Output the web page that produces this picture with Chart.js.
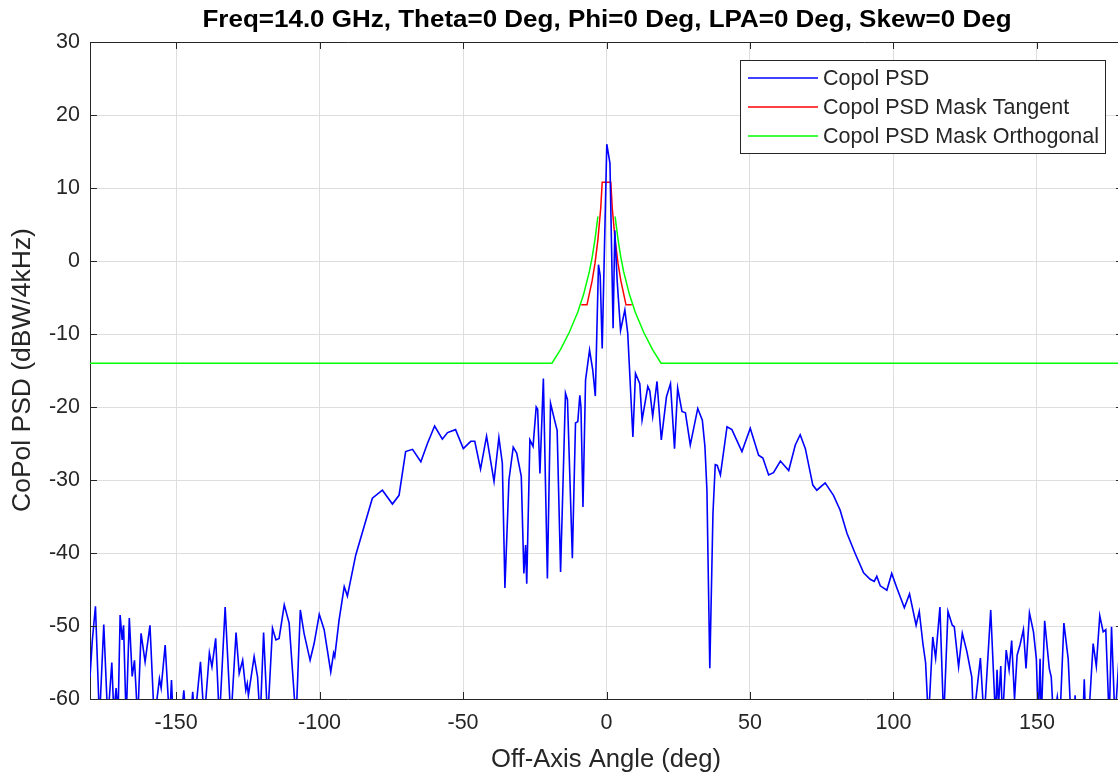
<!DOCTYPE html>
<html>
<head>
<meta charset="utf-8">
<script src="https://cdn.jsdelivr.net/npm/chart.js@4.4.1/dist/chart.umd.min.js"></script>
<style>
  html, body { margin: 0; padding: 0; background: #ffffff; overflow: hidden; }
  #wrap { width: 1130px; height: 780px; }
</style>
</head>
<body>
<div id="wrap"><canvas id="c" width="1130" height="780"></canvas></div>
<script>
// ---------------- data ----------------
const chartTitle = 'Freq=14.0 GHz, Theta=0 Deg, Phi=0 Deg, LPA=0 Deg, Skew=0 Deg';
const xAxisTitle = 'Off-Axis Angle (deg)';
const yAxisTitle = 'CoPol PSD (dBW/4kHz)';
const seriesNames = ['Copol PSD', 'Copol PSD Mask Tangent', 'Copol PSD Mask Orthogonal'];
const xTicks = [-150, -100, -50, 0, 50, 100, 150];
const yTicks = [-60, -50, -40, -30, -20, -10, 0, 10, 20, 30];

const psdAngle = [
  -180, -179.2, -178.1, -176.7, -175.2, -173.8, -172.4, -171.7, -170.9, -170.2,
  -169.5, -168.8, -168.3, -167.4, -166.3, -165.3, -164.5, -164.0, -163.4, -162.2,
  -160.8, -159.1, -157.6, -156.5, -155.8, -155.2, -153.8, -152.3, -151.6, -151.0,
  -149.0, -147.3, -146.5, -145.0, -144.2, -143.5, -141.5, -140.2, -138.4, -137.5,
  -136.2, -134.9, -132.9, -130.9, -129.1, -128.0, -126.8, -125.7, -125.2, -124.8,
  -122.8, -121.6, -120.7, -119.5, -118.1, -116.4, -115.2, -114.1, -112.3, -110.6,
  -108.2, -106.7, -105.4, -103.3, -101.9, -100.1, -98.4, -96.1, -95.1, -94.7,
  -93.2, -91.4, -90.3, -87.4, -84.5, -81.6, -78.1, -74.6, -72.3, -70.0,
  -67.6, -64.7, -62.4, -59.9, -57.2, -55.4, -52.6, -49.9, -47.3, -45.9,
  -43.9, -41.8, -39.2, -37.5, -36.3, -35.4, -34.0, -32.5, -31.3, -29.7,
  -28.8, -28.2, -27.8, -26.7, -25.6, -24.5, -24.0, -23.2, -22.0, -20.6,
  -19.5, -18.1, -17.2, -16.0, -14.3, -13.6, -11.9, -10.8, -10.0, -9.3,
  -8.9, -8.2, -7.3, -5.9, -4.8, -3.9, -2.8, -2.2, -1.5, 0.1,
  1.2, 2.3, 2.9, 3.7, 4.9, 6.4, 7.4, 9.2, 10.1, 11.6,
  12.4, 14.4, 15.1, 16.1, 17.6, 19.1, 20.9, 22.3, 23.7, 24.8,
  26.3, 27.5, 29.2, 31.8, 33.4, 34.3, 35.0, 36.0, 37.1, 37.9,
  38.6, 39.7, 42.0, 43.7, 47.2, 50.1, 53.0, 54.5, 56.5, 58.2,
  60.6, 63.5, 65.8, 67.5, 69.3, 71.9, 73.3, 76.2, 79.1, 81.4,
  83.8, 86.7, 89.6, 91.9, 93.3, 94.2, 95.4, 97.7, 99.4, 101.2,
  103.8, 105.6, 107.9, 109.0, 110.3, 111.2, 112.2, 113.7, 114.7, 116.2,
  117.5, 119.0, 120.5, 121.2, 122.7, 124.0, 125.6, 127.3, 127.9, 130.3,
  131.6, 131.9, 133.9, 135.6, 136.1, 136.6, 137.4, 138.0, 139.3, 140.3,
  141.2, 142.2, 143.1, 144.1, 145.3, 146.2, 147.4, 148.8, 149.8, 150.5,
  151.1, 151.5, 152.7, 154.3, 155.0, 155.8, 157.1, 158.0, 159.4, 160.9,
  161.9, 163.0, 163.3, 163.8, 166.0, 166.5, 167.0, 167.5, 168.0, 169.6,
  170.7, 171.9, 173.1, 174.0, 175.2, 176.0, 177.2, 178.5, 180
];
const psdValue = [
  -57, -52, -47.3, -63, -49.8, -63, -55.0, -62, -58.5, -62,
  -48.5, -51.9, -49.9, -63, -48.9, -56.9, -54.7, -58.3, -63, -51.0,
  -54.9, -49.9, -63, -59.5, -57.2, -58.5, -52.6, -63, -57.4, -63,
  -66, -58.8, -63, -63, -59, -63, -54.9, -63, -53.7, -55.6,
  -51.7, -63, -47.4, -63, -50.9, -56.5, -54.7, -58.8, -57.9, -59.5,
  -54.2, -57.0, -63, -50.9, -63, -50.3, -51.9, -51.7, -47.1, -49.6,
  -63, -47.8, -51.0, -54.7, -52.4, -48.4, -50.5, -56.3, -53.7, -54.2,
  -49.2, -44.6, -45.9, -40.3, -36.4, -32.5, -31.4, -33.3, -32.1, -26.1,
  -25.8, -27.5, -25.0, -22.6, -24.4, -23.5, -23.1, -25.7, -24.7, -24.7,
  -28.5, -24.0, -30.2, -24.2, -27.7, -44.8, -30.0, -25.5, -26.3, -29.5,
  -42.8, -38.9, -44.2, -24.5, -25.4, -20.0, -20.3, -29.1, -16.1, -43.5,
  -19.5, -21.8, -23.2, -42.6, -18.1, -19.0, -40.7, -22.2, -22.0, -18.4,
  -20, -33.7, -16.3, -12.2, -14.9, -18.5, -0.5, -2, -12.0, 16.0,
  13.4, -9.2, 4.2, -2.6, -9.5, -6.7, -9.9, -24.1, -15.4, -16.8,
  -21.8, -17.2, -17.8, -21.3, -16.5, -24.5, -18.6, -16.8, -25.7, -17.4,
  -20.6, -20.8, -25.2, -20.2, -21.8, -25.4, -31.4, -55.8, -34.6, -27.9,
  -28, -29.3, -22.7, -23.1, -26.1, -22.9, -26.6, -27.0, -29.3, -29.0,
  -27.4, -28.7, -25.2, -23.8, -25.7, -30.7, -31.4, -30.4, -32.1, -34.1,
  -37.3, -40.1, -42.7, -43.6, -43.9, -43.2, -44.5, -45.1, -42.8, -44.8,
  -47.5, -45.6, -49.9, -48.0, -52.5, -55, -63, -51.5, -54.4, -47.4,
  -63, -48.0, -49.9, -50.1, -55.6, -51.0, -53.5, -57, -63, -54.4,
  -63, -61, -47.8, -63, -56, -61, -55.5, -63, -53.3, -56,
  -52.0, -60, -54, -52.6, -50.5, -55.8, -48.2, -50.8, -54.5, -63,
  -54.5, -63, -49.3, -55.8, -57, -63, -59.7, -63, -49.6, -54.5,
  -63, -63, -59.5, -63, -63, -57.3, -63, -60, -63, -52.4,
  -55.5, -48.6, -50.8, -50.5, -63, -50.1, -63, -55, -52
];

const tangentAngle = [-8.8, -6.8, -5.0, -4.0, -3.0, -2.0, -1.5, 1.5, 2.0, 3.0, 4.0, 5.0, 6.8, 8.8];
const tangentValue = [-6.0, -6.0, -2.7, -0.3, 2.9, 7.3, 10.8, 10.8, 7.3, 2.9, -0.3, -2.7, -6.0, -6.0];

// null = gap in the orthogonal mask around boresight
const orthoAngle = [-180, -19, -16, -13, -10, -8, -6, -5, -4, -3, 0, 3, 4, 5, 6, 8, 10, 13, 16, 19, 180];
const orthoValue = [-14, -14, -12.1, -9.8, -7.0, -4.6, -1.5, 0.5, 3.0, 6.1, null, 6.1, 3.0, 0.5, -1.5, -4.6, -7.0, -9.8, -12.1, -14, -14];

const seriesColors = ['#0000ff', '#ff0000', '#00ff00'];

// ---------------- chart ----------------
function pts(xs, ys) { return xs.map((x, i) => ({ x: x, y: ys[i] })); }

const ink = '#262626';
const fontFam = '"Liberation Sans", Arial, Helvetica, sans-serif';

function fitFont(ctx, text, weight, target) {
  ctx.font = weight + '20px ' + fontFam;
  const w = ctx.measureText(text).width;
  const size = 20 * target / w;
  ctx.font = weight + size.toFixed(2) + 'px ' + fontFam;
}

const decorPlugin = {
  id: 'decor',
  afterDraw(chart) {
    const ctx = chart.ctx;
    const a = chart.chartArea;
    const xs = chart.scales.x, ys = chart.scales.y;
    ctx.save();
    // box top/right + inward ticks
    ctx.strokeStyle = ink;
    ctx.lineWidth = 1;
    ctx.beginPath();
    ctx.moveTo(a.left, a.top + 0.5); ctx.lineTo(a.right, a.top + 0.5);
    ctx.moveTo(a.right - 0.5, a.top); ctx.lineTo(a.right - 0.5, a.bottom);
    const tl = 7;
    xTicks.forEach(v => {
      const px = Math.round(xs.getPixelForValue(v)) + 0.5;
      ctx.moveTo(px, a.bottom); ctx.lineTo(px, a.bottom - tl);
      ctx.moveTo(px, a.top); ctx.lineTo(px, a.top + tl);
    });
    yTicks.forEach(v => {
      const py = Math.round(ys.getPixelForValue(v)) + 0.5;
      ctx.moveTo(a.left, py); ctx.lineTo(a.left + tl, py);
      ctx.moveTo(a.right, py); ctx.lineTo(a.right - tl, py);
    });
    ctx.stroke();

    // title
    ctx.fillStyle = '#000000';
    ctx.textAlign = 'center';
    ctx.textBaseline = 'alphabetic';
    ctx.font = 'bold 23px ' + fontFam;
    const tw = ctx.measureText(chartTitle).width;
    ctx.save();
    ctx.translate(607, 27);
    ctx.scale(809 / tw, 1);
    ctx.fillText(chartTitle, 0, 0);
    ctx.restore();

    // axis titles
    ctx.fillStyle = ink;
    ctx.textBaseline = 'middle';
    fitFont(ctx, xAxisTitle, '', 230);
    ctx.fillText(xAxisTitle, 606, 760);
    ctx.save();
    ctx.translate(23, 370);
    ctx.rotate(-Math.PI / 2);
    fitFont(ctx, yAxisTitle, '', 284);
    ctx.fillText(yAxisTitle, 0, 0);
    ctx.restore();

    // legend
    const lx = 740.5, ly = 60.5, lw = 365, lh = 93;
    ctx.fillStyle = '#ffffff';
    ctx.fillRect(lx, ly, lw, lh);
    ctx.strokeStyle = ink;
    ctx.lineWidth = 1;
    ctx.strokeRect(lx, ly, lw, lh);
    ctx.font = '21.5px ' + fontFam;
    ctx.textAlign = 'left';
    ctx.textBaseline = 'middle';
    chart.data.datasets.forEach((ds, i) => {
      const yy = 78 + i * 29;
      ctx.strokeStyle = ds.borderColor;
      ctx.lineWidth = 1.5;
      ctx.beginPath();
      ctx.moveTo(748, yy); ctx.lineTo(818, yy);
      ctx.stroke();
      ctx.fillStyle = ink;
      ctx.fillText(ds.label, 823, yy + 1);
    });
    ctx.restore();
  }
};

new Chart(document.getElementById('c'), {
  type: 'line',
  data: {
    datasets: [
      { label: seriesNames[0], data: pts(psdAngle, psdValue), borderColor: seriesColors[0], borderWidth: 1.6, pointRadius: 0, tension: 0, clip: 0 },
      { label: seriesNames[1], data: pts(tangentAngle, tangentValue), borderColor: seriesColors[1], borderWidth: 1.5, pointRadius: 0, tension: 0, clip: 0 },
      { label: seriesNames[2], data: pts(orthoAngle, orthoValue), borderColor: seriesColors[2], borderWidth: 1.5, pointRadius: 0, tension: 0, clip: 0, spanGaps: false }
    ]
  },
  options: {
    responsive: false,
    animation: false,
    layout: { padding: { left: 0, top: 42, right: 7, bottom: 0 } },
    plugins: { legend: { display: false }, title: { display: false }, tooltip: { enabled: false } },
    scales: {
      x: {
        type: 'linear', min: -180, max: 180,
        afterBuildTicks: s => { s.ticks = xTicks.map(v => ({ value: v })); },
        afterFit: s => { s.height = 81; },
        grid: { color: '#dedede', lineWidth: 1, drawTicks: false },
        border: { color: ink, width: 1 },
        ticks: { color: ink, font: { family: fontFam, size: 21.5 }, padding: 11, maxRotation: 0, autoSkip: false }
      },
      y: {
        type: 'linear', min: -60, max: 30,
        afterBuildTicks: s => { s.ticks = yTicks.map(v => ({ value: v })); },
        afterFit: s => { s.width = 90; },
        grid: { color: '#dedede', lineWidth: 1, drawTicks: false },
        border: { color: ink, width: 1 },
        ticks: { color: ink, font: { family: fontFam, size: 21.5 }, padding: 10, autoSkip: false }
      }
    }
  },
  plugins: [decorPlugin]
});
</script>
</body>
</html>
